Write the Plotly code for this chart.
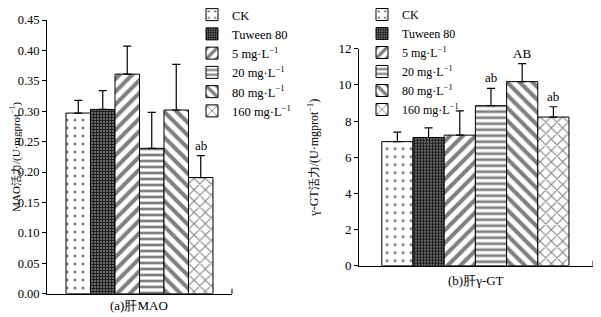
import plotly.graph_objects as go

categories = ["CK", "Tuween 80", "5 mg·L<sup>−1</sup>", "20 mg·L<sup>−1</sup>",
              "80 mg·L<sup>−1</sup>", "160 mg·L<sup>−1</sup>"]
mao_values = [0.297, 0.303, 0.361, 0.239, 0.302, 0.191]
mao_err = [0.021, 0.031, 0.046, 0.059, 0.075, 0.036]
mao_marks = ["", "", "", "", "", "ab"]
ggt_values = [6.86, 7.09, 7.22, 8.85, 10.18, 8.22]
ggt_err = [0.53, 0.53, 1.34, 0.96, 1.00, 0.57]
ggt_marks = ["", "", "", "ab", "AB", "ab"]
mao_ticks = [0.00, 0.05, 0.10, 0.15, 0.20, 0.25, 0.30, 0.35, 0.40, 0.45]
ggt_ticks = [0, 2, 4, 6, 8, 10, 12]

FONT = "Liberation Serif"
W, H = 593, 309  # page body adds an 8px margin around the figure

def px(x):
    return x / W

def py(y):
    return 1 - y / H

patterns = [
    dict(shape=".", size=8, solidity=0.12, fgcolor="black", bgcolor="white"),
    dict(shape="+", size=3, solidity=0.45, fgcolor="#111", bgcolor="#666", fillmode="replace"),
    dict(shape="/", size=9, solidity=0.45, fgcolor="black", bgcolor="white"),
    dict(shape="-", size=6, solidity=0.45, fgcolor="black", bgcolor="white"),
    dict(shape="\\", size=9, solidity=0.45, fgcolor="black", bgcolor="white"),
    dict(shape="x", size=8, solidity=0.25, fgcolor="black", bgcolor="white"),
]

fig = go.Figure()
for i, cat in enumerate(categories):
    fig.add_trace(go.Bar(
        x=[cat], y=[mao_values[i]], name=cat, width=1,
        marker=dict(color="white", line=dict(color="black", width=1), pattern=patterns[i]),
        error_y=dict(type="data", array=[mao_err[i]], arrayminus=[0], color="black",
                     thickness=1.2, width=4),
        xaxis="x", yaxis="y", legend="legend", showlegend=True))
    fig.add_trace(go.Bar(
        x=[cat], y=[ggt_values[i]], name=cat, width=1,
        marker=dict(color="white", line=dict(color="black", width=1), pattern=patterns[i]),
        error_y=dict(type="data", array=[ggt_err[i]], arrayminus=[0], color="black",
                     thickness=1.2, width=4),
        xaxis="x2", yaxis="y2", legend="legend2", showlegend=True))

annotations = []
for i, cat in enumerate(categories):
    if mao_marks[i]:
        annotations.append(dict(x=cat, y=mao_values[i] + mao_err[i], xref="x", yref="y",
                                text=mao_marks[i], showarrow=False, yanchor="bottom",
                                yshift=1, font=dict(family=FONT, size=13, color="black")))
    if ggt_marks[i]:
        annotations.append(dict(x=cat, y=ggt_values[i] + ggt_err[i], xref="x2", yref="y2",
                                text=ggt_marks[i], showarrow=False, yanchor="bottom",
                                yshift=1, font=dict(family=FONT, size=13, color="black")))

annotations.append(dict(x=px(131), y=py(297), xref="paper", yref="paper",
                        text="(a)肝MAO", showarrow=False, xanchor="center", yanchor="middle",
                        font=dict(family=FONT, size=13, color="black")))
annotations.append(dict(x=px(468), y=py(272), xref="paper", yref="paper",
                        text="(b)肝γ-GT", showarrow=False, xanchor="center", yanchor="middle",
                        font=dict(family=FONT, size=13, color="black")))

axis_common = dict(showgrid=False, zeroline=False, showline=True, linecolor="black",
                   linewidth=1, color="black")

fig.update_layout(
    width=W, height=H,
    margin=dict(l=0, r=0, t=0, b=0, autoexpand=False),
    paper_bgcolor="white", plot_bgcolor="white",
    barmode="overlay",
    font=dict(family=FONT, size=13, color="black"),
    xaxis=dict(domain=[px(39), px(224)], type="category", range=[-1.276, 6.276],
               showticklabels=False, ticks="", anchor="y", **axis_common),
    yaxis=dict(domain=[py(285.7), py(12)], range=[0, 0.45], tickvals=mao_ticks,
               tickformat=".2f", ticks="outside", ticklen=4, anchor="x",
               title=dict(text="MAO活力/(U·mgprot<sup>−1</sup>)", standoff=1,
                          font=dict(family=FONT, size=11)),
               tickfont=dict(family=FONT, size=12.5), **axis_common),
    xaxis2=dict(domain=[px(351), px(585)], type="category", range=[-1.23, 6.27],
                showticklabels=False, ticks="", anchor="y2", **axis_common),
    yaxis2=dict(domain=[py(257.7), py(40.7)], range=[0, 12], tickvals=ggt_ticks,
                ticks="outside", ticklen=4, anchor="x2",
                title=dict(text="γ-GT活力/(U·mgprot<sup>−1</sup>)", standoff=17,
                           font=dict(family=FONT, size=12)),
                tickfont=dict(family=FONT, size=13), **axis_common),
    legend=dict(x=px(184), y=1 + 8 / H, xanchor="left", yanchor="top",
                bgcolor="rgba(0,0,0,0)", itemwidth=30, tracegroupgap=0,
                font=dict(family=FONT, size=12.5, color="black")),
    legend2=dict(x=px(354), y=1 + 8 / H, xanchor="left", yanchor="top",
                 bgcolor="rgba(0,0,0,0)", itemwidth=30, tracegroupgap=0,
                 font=dict(family=FONT, size=12, color="black")),
    annotations=annotations,
    shapes=[
        dict(type="line", xref="paper", yref="paper", x0=px(224), x1=px(224),
             y0=py(285.7), y1=py(280.7), line=dict(color="black", width=1)),
        dict(type="line", xref="paper", yref="paper", x0=px(585), x1=px(585),
             y0=py(257.7), y1=py(252.7), line=dict(color="black", width=1)),
    ],
)

fig.write_html("out.html")
